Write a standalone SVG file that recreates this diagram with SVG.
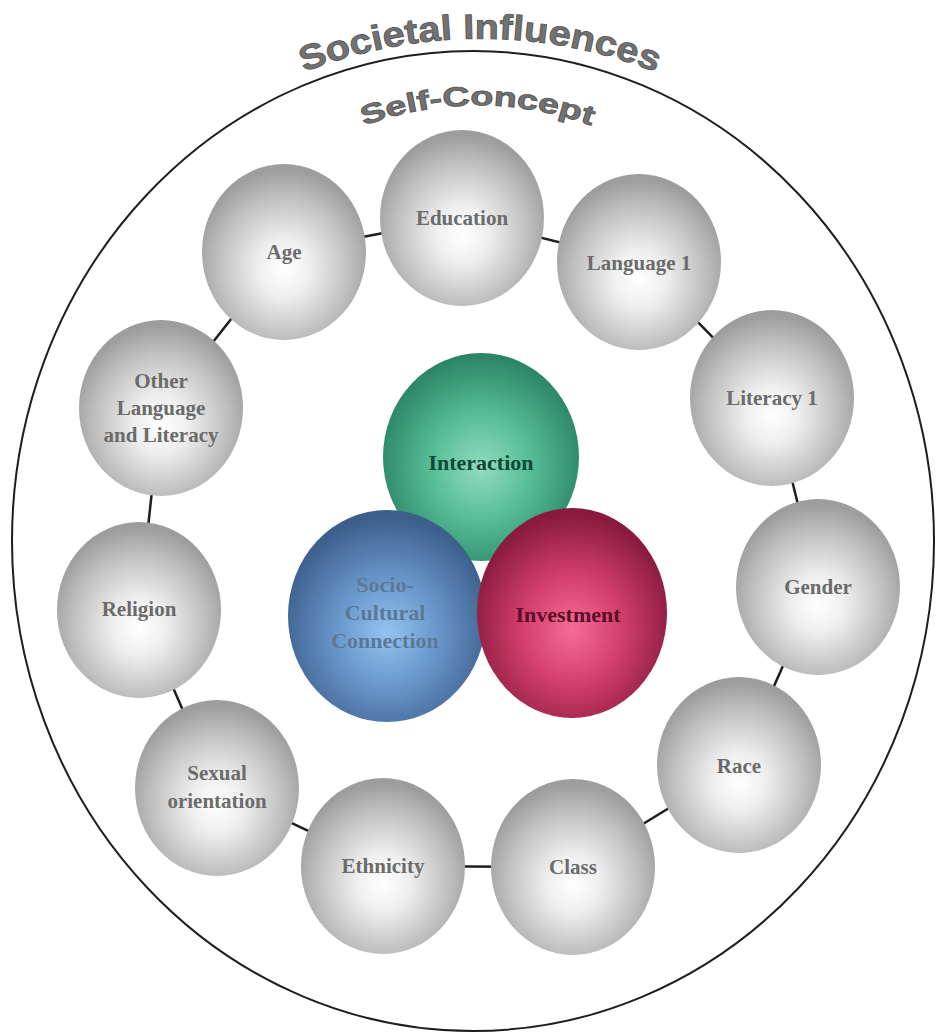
<svg xmlns="http://www.w3.org/2000/svg" width="936" height="1034" viewBox="0 0 936 1034">
  <defs>
    <radialGradient id="gGray" cx="50%" cy="58%" r="55%" fx="50%" fy="60%">
      <stop offset="0" stop-color="#ffffff"/>
      <stop offset="0.3" stop-color="#eeeeee"/>
      <stop offset="0.75" stop-color="#bdbdbd"/>
      <stop offset="1" stop-color="#9d9d9d"/>
    </radialGradient>
    <radialGradient id="gGreen" cx="50%" cy="55%" r="55%">
      <stop offset="0" stop-color="#92dcbd"/>
      <stop offset="0.45" stop-color="#58be99"/>
      <stop offset="1" stop-color="#2a8364"/>
    </radialGradient>
    <radialGradient id="gBlue" cx="50%" cy="58%" r="55%">
      <stop offset="0" stop-color="#92c4f0"/>
      <stop offset="0.45" stop-color="#6a98cc"/>
      <stop offset="1" stop-color="#3c5f8c"/>
    </radialGradient>
    <radialGradient id="gRed" cx="50%" cy="58%" r="55%">
      <stop offset="0" stop-color="#f56c96"/>
      <stop offset="0.45" stop-color="#d6416f"/>
      <stop offset="1" stop-color="#891a3e"/>
    </radialGradient>
    <path id="arcOuter" d="M 290,78 A 480 480 0 0 1 670,78"/>
    <path id="arcInner" d="M 355,129 A 330 330 0 0 1 600,129"/>
  </defs>
  <style>
    .ring { fill: none; stroke: #1e1e1e; stroke-width: 2; }
    .link { fill: none; stroke: #1e1e1e; stroke-width: 2.5; }
    .ball { fill: url(#gGray); }
    .lbl { font-family: "Liberation Serif", "Times New Roman", serif; font-weight: bold; font-size: 21px; fill: #6b6b6b; text-anchor: middle; }
    .core { font-family: "Liberation Serif", "Times New Roman", serif; font-weight: bold; font-size: 22px; text-anchor: middle; }
    .arcTitle { font-family: "Liberation Sans", Arial, sans-serif; font-weight: bold; fill: #727272; stroke: #555555; stroke-width: 0.8; }
  </style>

  <rect width="936" height="1034" fill="#ffffff"/>

  <!-- outer boundary of societal influences -->
  <ellipse class="ring" cx="473" cy="541" rx="461" ry="490"/>

  <text class="arcTitle" font-size="35"><textPath href="#arcOuter" startOffset="50%" text-anchor="middle" textLength="360" lengthAdjust="spacingAndGlyphs">Societal Influences</textPath></text>
  <text class="arcTitle" font-size="27"><textPath href="#arcInner" startOffset="50%" text-anchor="middle" textLength="232" lengthAdjust="spacingAndGlyphs">Self-Concept</textPath></text>

  <!-- ring of links joining the factors -->
  <g id="connectors">
    <polygon class="link" points="462,218 639,262 772,398 818,587 739,765 573,867 383,866 217,788 139,610 161,408 284,252"/>
  </g>

  <g id="education"><ellipse class="ball" cx="462" cy="218" rx="82" ry="88"/><text class="lbl" x="462" y="225">Education</text></g>
  <g id="language1"><ellipse class="ball" cx="639" cy="262" rx="82" ry="88"/><text class="lbl" x="639" y="270">Language 1</text></g>
  <g id="literacy1"><ellipse class="ball" cx="772" cy="398" rx="82" ry="88"/><text class="lbl" x="772" y="405">Literacy 1</text></g>
  <g id="gender"><ellipse class="ball" cx="818" cy="587" rx="82" ry="88"/><text class="lbl" x="818" y="594">Gender</text></g>
  <g id="race"><ellipse class="ball" cx="739" cy="765" rx="82" ry="88"/><text class="lbl" x="739" y="773">Race</text></g>
  <g id="class"><ellipse class="ball" cx="573" cy="867" rx="82" ry="88"/><text class="lbl" x="573" y="874">Class</text></g>
  <g id="ethnicity"><ellipse class="ball" cx="383" cy="866" rx="82" ry="88"/><text class="lbl" x="383" y="873">Ethnicity</text></g>
  <g id="sexual-orientation"><ellipse class="ball" cx="217" cy="788" rx="82" ry="88"/><text class="lbl" x="217" y="780">Sexual</text><text class="lbl" x="217" y="808">orientation</text></g>
  <g id="religion"><ellipse class="ball" cx="139" cy="610" rx="82" ry="88"/><text class="lbl" x="139" y="616">Religion</text></g>
  <g id="other-language"><ellipse class="ball" cx="161" cy="408" rx="82" ry="88"/><text class="lbl" x="161" y="388">Other</text><text class="lbl" x="161" y="415">Language</text><text class="lbl" x="161" y="442">and Literacy</text></g>
  <g id="age"><ellipse class="ball" cx="284" cy="252" rx="82" ry="88"/><text class="lbl" x="284" y="259">Age</text></g>

  <!-- core trio -->
  <g id="interaction"><ellipse cx="481" cy="457" rx="98" ry="104" fill="url(#gGreen)"/><text class="core" x="481" y="470" fill="#0d4a35">Interaction</text></g>
  <g id="socio-cultural"><ellipse cx="387" cy="616" rx="99" ry="106" fill="url(#gBlue)"/><text class="core" x="385" y="592" fill="#5d7896">Socio-</text><text class="core" x="385" y="620" fill="#5d7896">Cultural</text><text class="core" x="385" y="648" fill="#5d7896">Connection</text></g>
  <g id="investment"><ellipse cx="572" cy="613" rx="95" ry="105" fill="url(#gRed)"/><text class="core" x="568" y="622" fill="#5a0c28">Investment</text></g>
</svg>
